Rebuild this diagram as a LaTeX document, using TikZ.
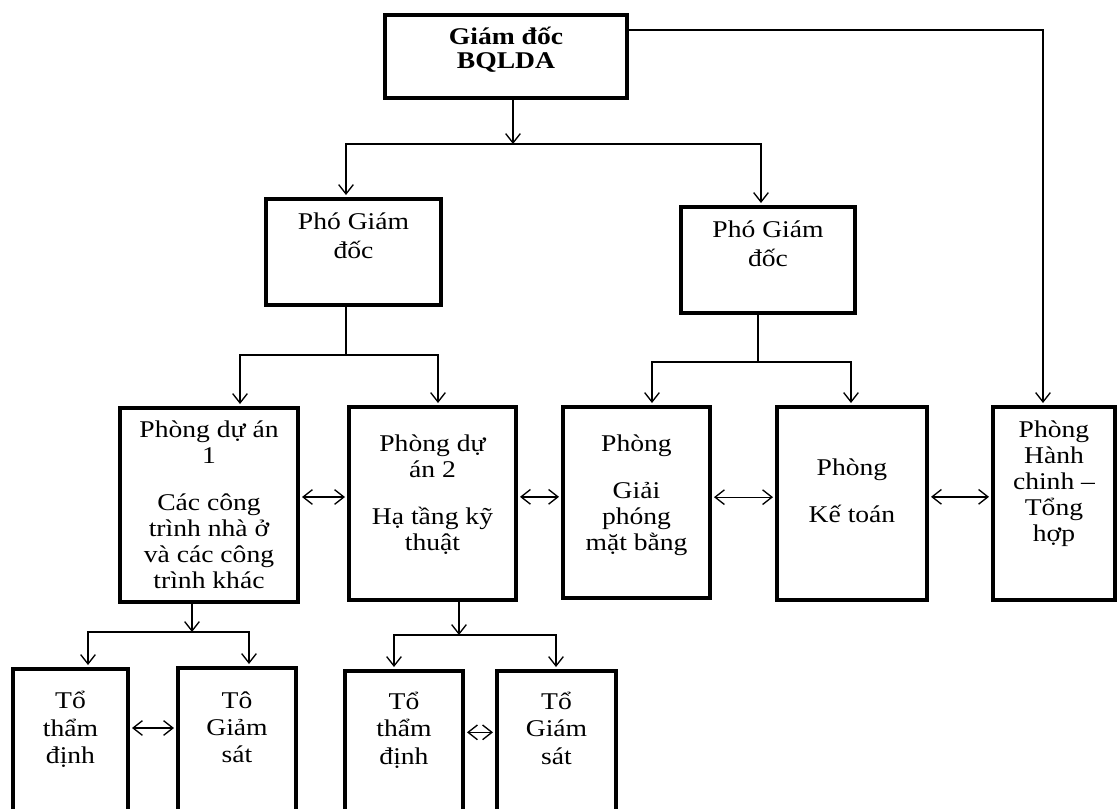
\documentclass[tikz,border=0pt]{standalone}
\usepackage{fontspec}
\setmainfont{Liberation Serif}[FakeStretch=1.15]
\usetikzlibrary{positioning,arrows.meta}

\begin{document}
\begin{tikzpicture}[x=0.75pt, y=-0.75pt,
  box/.style 2 args={draw, line width=3pt, minimum width=#1*0.75pt, minimum height=#2*0.75pt, inner sep=0pt},
  lbl/.style={align=center, inner sep=0pt, font=\fontsize{18pt}{19.5pt}\selectfont},
  link/.style={line width=1pt},
  arr/.style={link, -{Straight Barb[length=7pt,width=11pt]}},
  into/.style={arr, shorten >=1.5pt},
  darr/.style={link, {Straight Barb[length=7pt,width=11pt]}-{Straight Barb[length=7pt,width=11pt]}, shorten <=1.5pt, shorten >=1.5pt}]
\useasboundingbox (0,0) rectangle (1118,808);
\clip (0,0) rectangle (1118,808);

\node[box={242}{83}] (gd) at (506,56.5) {};
\node[lbl, font=\fontsize{18pt}{18pt}\selectfont\bfseries, below=10pt of gd.north] (gdtext) {Giám đốc\\BQLDA};

\node[box={175}{106}] (pgd1) at (353.5,252) {};
\node[lbl, below=12pt of pgd1.north] (pgd1text) {Phó Giám\\[2pt]đốc};
\node[box={174}{106}] (pgd2) at (768,260) {};
\node[lbl, below=12pt of pgd2.north] (pgd2text) {Phó Giám\\[2pt]đốc};

\node[box={178}{194}] (pda1) at (209,505) {};
\node[lbl, below=11pt of pda1.north] (pda1text) {Phòng dự án\\1\\[16pt]Các công\\trình nhà ở\\và các công\\trình khác};
\node[box={167}{193}] (pda2) at (432.5,503.5) {};
\node[lbl, below=22pt of pda2.north] (pda2text) {Phòng dự\\án 2\\[16pt]Hạ tầng kỹ\\thuật};
\node[box={147}{191}] (gpmb) at (636.5,502.5) {};
\node[lbl, below=22pt of gpmb.north] (gpmbtext) {Phòng\\[16pt]Giải\\phóng\\mặt bằng};
\node[box={150}{193}] (kt) at (852,503.5) {};
\node[lbl, below=40pt of kt.north] (kttext) {Phòng\\[16pt]Kế toán};
\node[box={122}{193}] (hc) at (1054,503.5) {};
\node[lbl, below=12pt of hc.north] (hctext) {Phòng\\Hành\\chinh –\\Tổng\\hợp};

\node[box={115}{162}] (ttd1) at (70.5,750) {};
\node[lbl, below=18pt of ttd1.north] (ttd1text) {Tổ\\[1pt]thẩm\\[1pt]định};
\node[box={118}{163}] (tgs1) at (237,749.5) {};
\node[lbl, below=19pt of tgs1.north] (tgs1text) {Tô\\[1pt]Giảm\\[1pt]sát};
\node[box={118}{160}] (ttd2) at (404,751) {};
\node[lbl, below=17pt of ttd2.north] (ttd2text) {Tổ\\[1pt]thẩm\\[1pt]định};
\node[box={119}{160}] (tgs2) at (556.5,751) {};
\node[lbl, below=17pt of tgs2.north] (tgs2text) {Tổ\\[1pt]Giám\\[1pt]sát};

\foreach \src/\dl/\dr/\sx/\lx/\rx/\by/\st in {gd/pgd1/pgd2/513/346/761/144/arr, pgd1/pda1/pda2/346/240/438/355/link, pgd2/gpmb/kt/758/652/851/362/link, pda1/ttd1/tgs1/192/88/249/632/arr, pda2/ttd2/tgs2/459/394/556/635/arr} {
  \coordinate (j\src) at (\sx,\by);
  \coordinate (l\src) at (\lx,\by);
  \coordinate (r\src) at (\rx,\by);
  \draw[\st] (\src.south -| j\src) -- (j\src);
  \draw[darr] (l\src |- \dl.north) -- (l\src) -- (r\src) -- (r\src |- \dr.north);
}

\coordinate (jhc) at (1043,30);
\draw[into] (gd.east |- jhc) -- (jhc) -- (jhc |- hc.north);

\foreach \a/\b/\dy in {pda1/pda2/6pt, pda2/gpmb/5pt, gpmb/kt/4pt, kt/hc/5pt, ttd1/tgs1/16.5pt, ttd2/tgs2/14pt}
  \draw[darr] ([yshift=\dy]\a.east) coordinate (d\a) -- (d\a -| \b.west);
\end{tikzpicture}
\end{document}
